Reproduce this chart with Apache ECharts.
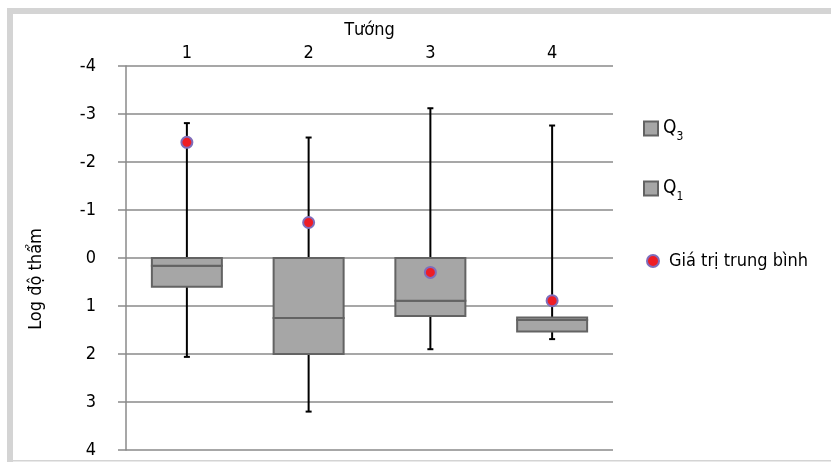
<!DOCTYPE html>
<html>
<head>
<meta charset="utf-8">
<script src="https://cdn.jsdelivr.net/npm/echarts@6/dist/echarts.min.js"></script>
<style>html,body{margin:0;padding:0;background:#fff}#c{width:831px;height:462px}</style>
</head>
<body>
<div id="c"></div>
<script>
var categories = ['1', '2', '3', '4'];
var whiskerLow = [-2.81, -2.51, -3.12, -2.76];
var boxTop = [0, 0, 0, 1.24];
var median = [0.16, 1.25, 0.89, 1.29];
var boxBottom = [0.60, 2.00, 1.21, 1.53];
var whiskerHigh = [2.06, 3.20, 1.90, 1.69];
var meanVals = [-2.41, -0.74, 0.30, 0.89];
var yTicks = [-4, -3, -2, -1, 0, 1, 2, 3, 4];

var FONT = '"DejaVu Sans Condensed", "Liberation Sans Narrow", "Liberation Sans", sans-serif';
var FS = 18;
var chart = echarts.init(document.getElementById('c'));

function boxRender(params, api) {
  var x = api.value(0);
  var p1 = api.coord([x, api.value(1)]);
  var p2 = api.coord([x, api.value(2)]);
  var w = api.size([1, 0])[0] * 0.575;
  return {
    type: 'rect',
    shape: { x: p1[0] - w / 2, y: Math.min(p1[1], p2[1]), width: w, height: Math.abs(p2[1] - p1[1]) },
    style: { fill: '#A6A6A6', stroke: '#636363', lineWidth: 2 }
  };
}
function whiskerRender(params, api) {
  var x = api.value(0);
  var p1 = api.coord([x, api.value(1)]);
  var p2 = api.coord([x, api.value(2)]);
  var c = 3;
  var st = { stroke: '#000', lineWidth: 2 };
  return {
    type: 'group',
    children: [
      { type: 'line', shape: { x1: p1[0], y1: p1[1], x2: p2[0], y2: p2[1] }, style: st },
      { type: 'line', shape: { x1: p1[0] - c, y1: p1[1], x2: p1[0] + c, y2: p1[1] }, style: st },
      { type: 'line', shape: { x1: p2[0] - c, y1: p2[1], x2: p2[0] + c, y2: p2[1] }, style: st }
    ]
  };
}

var richQ = {
  a: { fontSize: FS + 1, fontFamily: FONT, color: '#000', lineHeight: 22 },
  b: { fontSize: 12, fontFamily: FONT, color: '#000', lineHeight: 12, verticalAlign: 'bottom', padding: [0, 0, -3, 0] }
};

var option = {
  animation: false,
  backgroundColor: '#fff',
  textStyle: { fontFamily: FONT },
  grid: { left: 126, right: 218, top: 66, bottom: 12 },
  xAxis: {
    type: 'category',
    data: categories,
    position: 'top',
    boundaryGap: true,
    name: 'Tướng',
    nameLocation: 'middle',
    nameGap: 18,
    nameTextStyle: { fontSize: FS, color: '#000', fontFamily: FONT },
    axisLine: { show: false },
    axisTick: { show: false },
    axisLabel: { fontSize: FS, color: '#000', margin: 4, fontFamily: FONT }
  },
  yAxis: {
    type: 'value',
    inverse: true,
    min: yTicks[0],
    max: yTicks[yTicks.length - 1],
    interval: 1,
    axisLine: { show: true, lineStyle: { color: '#8A8A8A', width: 1.5 } },
    axisTick: { show: true, length: 8, lineStyle: { color: '#8A8A8A', width: 1.5 } },
    splitLine: { show: true, lineStyle: { color: '#8A8A8A', width: 1.5 } },
    axisLabel: { fontSize: FS, color: '#000', margin: 30, fontFamily: FONT }
  },
  legend: [
    { data: ['Q3'], left: 643, top: 119, padding: 0, icon: 'rect', itemWidth: 14, itemHeight: 14,
      formatter: function () { return '{a|Q}{b|3}'; }, textStyle: { rich: richQ } },
    { data: ['Q1'], left: 643, top: 179, padding: 0, icon: 'rect', itemWidth: 14, itemHeight: 14,
      formatter: function () { return '{a|Q}{b|1}'; }, textStyle: { rich: richQ } },
    { data: ['Giá trị trung bình'], left: 646, top: 252, padding: 0, icon: 'circle', itemWidth: 12, itemHeight: 12,
      textStyle: { fontSize: FS, color: '#000', fontFamily: FONT, padding: [0, 0, 0, 5] } }
  ],
  graphic: [
    { type: 'rect', shape: { x: 7, y: 8, width: 830, height: 6 }, style: { fill: '#D4D4D4' }, silent: true },
    { type: 'rect', shape: { x: 7, y: 8, width: 6, height: 460 }, style: { fill: '#D4D4D4' }, silent: true },
    { type: 'rect', shape: { x: 7, y: 460, width: 830, height: 1.5 }, style: { fill: '#D4D4D4' }, silent: true },
    { type: 'text', x: 36, y: 279, rotation: Math.PI / 2,
      style: { text: 'Log độ thẩm', fontSize: FS, fontFamily: FONT, fill: '#000', align: 'center', verticalAlign: 'middle' } }
  ],
  series: [
    {
      name: 'whisker', type: 'custom', renderItem: whiskerRender, z: 2,
      encode: { x: 0, y: [1, 2] },
      data: categories.map(function (c, i) { return [i, whiskerLow[i], whiskerHigh[i]]; })
    },
    {
      name: 'Q3', type: 'custom', renderItem: boxRender, z: 3,
      itemStyle: { color: '#A6A6A6', borderColor: '#636363', borderWidth: 2 },
      encode: { x: 0, y: [1, 2] },
      data: categories.map(function (c, i) { return [i, median[i], boxBottom[i]]; })
    },
    {
      name: 'Q1', type: 'custom', renderItem: boxRender, z: 3,
      itemStyle: { color: '#A6A6A6', borderColor: '#636363', borderWidth: 2 },
      encode: { x: 0, y: [1, 2] },
      data: categories.map(function (c, i) { return [i, boxTop[i], median[i]]; })
    },
    {
      name: 'Giá trị trung bình', type: 'scatter', z: 5,
      symbol: 'circle', symbolSize: 11,
      itemStyle: { color: '#EE1D25', borderColor: '#7F6DBB', borderWidth: 2, opacity: 1 },
      data: meanVals.map(function (v, i) { return [i, v]; })
    }
  ]
};
chart.setOption(option);
</script>
</body>
</html>
